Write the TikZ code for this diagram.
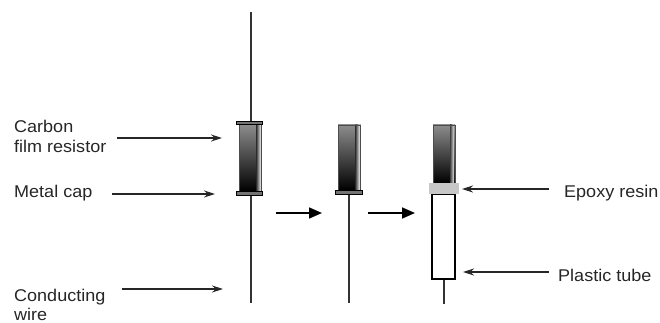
\documentclass[tikz,border=0pt]{standalone}
\usepackage{fontspec}
\setmainfont{Liberation Sans}[FakeStretch=1.06]
\usetikzlibrary{arrows.meta}
% resistor body with a light strip on its right edge
\newcommand{\resbody}[4]{%
  \shade[body] (#1,#2) rectangle (#3,#4);
  \shade[left color=black!75, right color=black!10] ({#3-5},#2) rectangle ({#3-1},#4);
  \draw[black!70, line width=0.6pt] (#1,#2) rectangle (#3,#4);}
\begin{document}
\begin{tikzpicture}[x=1pt,y=-1pt,
  lbl/.style={font=\fontsize{17}{19.5}\selectfont, inner sep=0pt, align=left, text=black!85},
  pointer/.style={draw=black!85, line width=1.2pt, -{Stealth[length=11pt,width=7pt]}},
  stage/.style={draw=black, line width=1.7pt, -{Triangle[length=13pt,width=11pt]}},
  wire/.style={draw=black!80, line width=2pt},
  metalcap/.style={draw=black, fill=black!55, line width=0.8pt},
  body/.style={top color=black!45, bottom color=black, draw=black!60, line width=0.6pt},
  epoxy/.style={fill=black!22, draw=none},
  tube/.style={draw=black, line width=1.3pt, fill=white}]
\useasboundingbox (0,0) rectangle (660,323);

% ---- stage 1: complete resistor
\draw[wire] (250.5,12) -- (250.5,303);
\resbody{239.5}{124.5}{261.5}{191}
\draw[metalcap] (236,121) rectangle (262,124.5);
\draw[metalcap] (236,191.5) rectangle (262,195);

% ---- stage 2: top cap and lead removed
\draw[wire] (349,194) -- (349,303);
\resbody{338}{125}{360.5}{190}
\draw[metalcap] (335,190) rectangle (362,194);

% ---- stage 3: epoxy seal and plastic tube
\draw[wire] (443.5,279) -- (443.5,304);
\draw[tube] (432,194) rectangle (455,279);
\resbody{433}{125}{455}{183}
\fill[epoxy] (429,183) rectangle (459,194);

% ---- process arrows
\coordinate (s1a) at (276,213); \coordinate (s1b) at (322,213);
\coordinate (s2a) at (368,213); \coordinate (s2b) at (415,213);
\draw[stage] (s1a) -- (s1b);
\draw[stage] (s2a) -- (s2b);

% ---- labels (base anchor of a two-line node sits on its last line)
\node[lbl, anchor=base west] (carbon) at (14,152.5) {Carbon\\film resistor};
\node[lbl, anchor=base west] (metal) at (14,197) {Metal cap};
\node[lbl, anchor=base west] (cond) at (14,320.5) {Conducting\\wire};
\node[lbl, anchor=base west] (epx) at (564,197) {Epoxy resin};
\node[lbl, anchor=base west] (plast) at (558,281) {Plastic tube};

\coordinate (carbonA) at (117,138); \coordinate (carbonB) at (222,138);
\coordinate (metalA) at (112,194);  \coordinate (metalB) at (215,194);
\coordinate (condA) at (122,289);   \coordinate (condB) at (223,289);
\coordinate (epxA) at (549,189);    \coordinate (epxB) at (462,189);
\coordinate (plastA) at (549,272);  \coordinate (plastB) at (463,272);

\draw[pointer] (carbonA) -- (carbonB);
\draw[pointer] (metalA) -- (metalB);
\draw[pointer] (condA) -- (condB);
\draw[pointer] (epxA) -- (epxB);
\draw[pointer] (plastA) -- (plastB);
\end{tikzpicture}
\end{document}
